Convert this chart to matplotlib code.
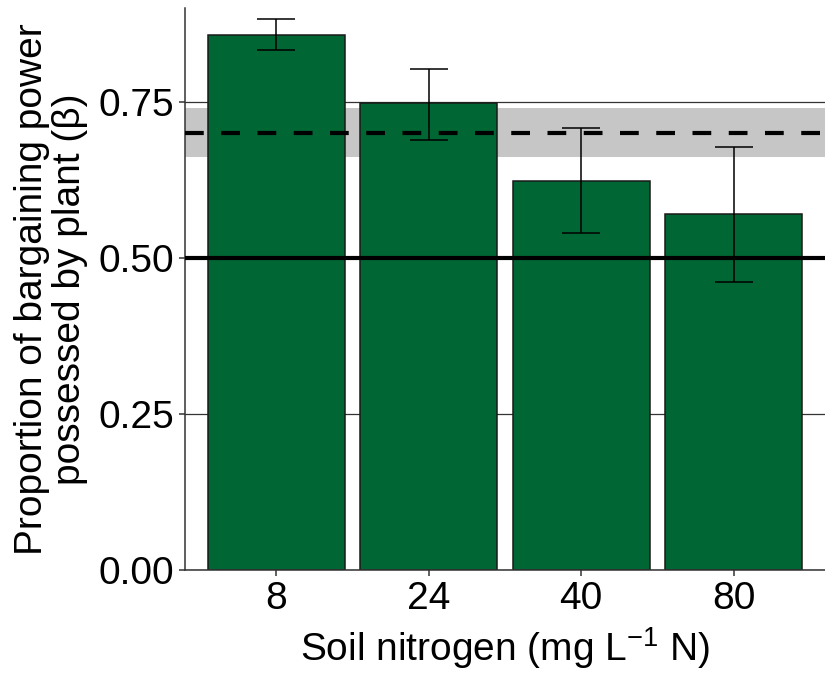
import matplotlib
matplotlib.use("Agg")
import matplotlib.pyplot as plt
import numpy as np

# bargaining power estimates per soil nitrogen level
nitrogen = ["8", "24", "40", "80"]
beta = [0.857, 0.748, 0.623, 0.570]
beta_lo = [0.832, 0.689, 0.540, 0.462]
beta_hi = [0.883, 0.803, 0.708, 0.678]

# pooled estimate and its interval, plus the equal-split reference
pooled = 0.700
pooled_lo = 0.662
pooled_hi = 0.740
equal_split = 0.5

plt.rcParams["font.family"] = ["Liberation Sans", "DejaVu Sans"]
plt.rcParams["mathtext.fontset"] = "custom"
plt.rcParams["mathtext.rm"] = "Liberation Sans"
plt.rcParams["mathtext.it"] = "Liberation Sans:italic"

fig = plt.figure(figsize=(8.25, 6.8), dpi=100)
ax = fig.add_axes([0.2242, 0.1618, 0.7758, 0.8264])

x = np.arange(1, len(nitrogen) + 1)
beta = np.array(beta)
yerr = [beta - np.array(beta_lo), np.array(beta_hi) - beta]

ax.set_axisbelow(True)
ax.yaxis.grid(True, color="#333333", linewidth=0.9)
ax.axhspan(pooled_lo, pooled_hi, color="#c6c6c6", linewidth=0, zorder=1)
ax.bar(x, beta, width=0.9, color="#006633", edgecolor="#1a1a1a", linewidth=1.1, zorder=2)
ax.axhline(pooled, color="black", linewidth=3, dashes=(4.5, 4.2), zorder=3)
ax.axhline(equal_split, color="black", linewidth=3, zorder=3)
ax.errorbar(x, beta, yerr=yerr, fmt="none", ecolor="black", elinewidth=1.1,
            capsize=13.7, capthick=1.1, zorder=4)

ax.set_xlim(0.4, 4.6)
ax.set_ylim(0, 0.9)
ax.set_xticks(x)
ax.set_xticklabels(nitrogen)
ax.set_yticks([0, 0.25, 0.5, 0.75])
ax.set_yticklabels(["0.00", "0.25", "0.50", "0.75"])

for side in ["top", "right"]:
    ax.spines[side].set_visible(False)
for side in ["left", "bottom"]:
    ax.spines[side].set_color("#333333")
    ax.spines[side].set_linewidth(1.1)

ax.tick_params(axis="both", colors="#333333", width=1.1, length=4, labelsize=28,
               labelcolor="black")
ax.tick_params(axis="x", pad=4)

ax.set_xlabel("Soil nitrogen (mg L$^{-1}$ N)", fontsize=28, labelpad=6)
ax.set_ylabel("Proportion of bargaining power\npossessed by plant (β)", fontsize=28,
              labelpad=8, linespacing=1.05)

fig.savefig("out.png", dpi=100)
